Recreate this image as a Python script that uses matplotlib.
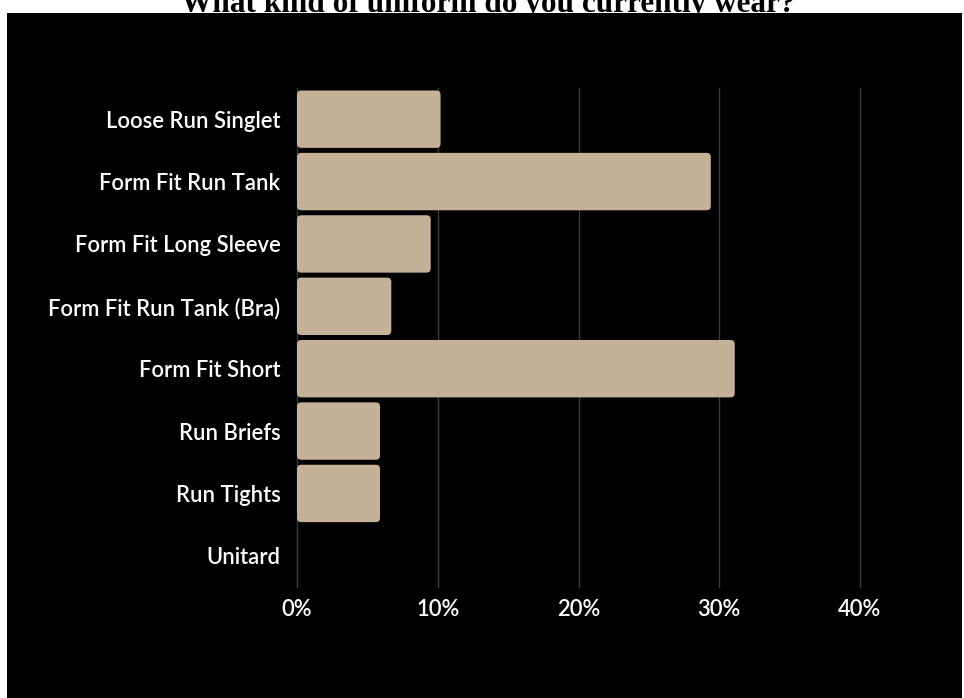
import matplotlib.pyplot as plt
from matplotlib.patches import FancyBboxPatch
from matplotlib.ticker import FuncFormatter

# ── Data ──────────────────────────────────────────────────────────────────
categories = ['Loose Run Singlet', 'Form Fit Run Tank', 'Form Fit Long Sleeve',
              'Form Fit Run Tank (Bra)', 'Form Fit Short', 'Run Briefs',
              'Run Tights', 'Unitard']
percent = [10.2, 29.4, 9.5, 6.7, 31.1, 5.9, 5.9, 0.0]
x_ticks = [0, 10, 20, 30, 40]

BAR_COLOR = '#C5B197'
GRID_COLOR = '#3c3c3c'
LABEL_FONT = ['Lato', 'DejaVu Sans']

W, H = 964, 698
fig = plt.figure(figsize=(W / 100, H / 100), dpi=100, facecolor='white')

# black panel behind the chart
bg = fig.add_axes([7 / W, 0, (W - 9) / W, (H - 13) / H], zorder=-1)
bg.set_facecolor('black')
bg.set_xticks([])
bg.set_yticks([])
for s in bg.spines.values():
    s.set_visible(False)

# title, partly cut off at the top edge as in the source
fig.text(488 / W, 1 - 12 / H, 'What kind of uniform do you currently wear?',
         ha='center', va='baseline', fontsize=22.5, fontweight='bold',
         family=['Liberation Serif', 'DejaVu Serif'], color='black')

ax = fig.add_axes([297 / W, (H - 587) / H, (860 - 297) / W, 499 / H], zorder=1)
ax.set_facecolor('none')

y = list(range(len(categories)))
bars = ax.barh(y, percent, height=0.92, color=BAR_COLOR)
ax.set_xlim(0, 40)
ax.set_ylim(len(categories) - 0.5, -0.5)

# rounded bar ends (same geometry as the bars)
px_x = (860 - 297) / 40
px_y = 499 / len(categories)
for b in bars:
    b.set_visible(False)
    if b.get_width() <= 0:
        continue
    ax.add_patch(FancyBboxPatch((b.get_x(), b.get_y()), b.get_width(), b.get_height(),
                                boxstyle='round,pad=0,rounding_size=0.3',
                                mutation_aspect=px_x / px_y,
                                facecolor=BAR_COLOR, edgecolor='none', zorder=3))

ax.set_yticks(y)
ax.set_yticklabels(categories)
ax.set_xticks(x_ticks)
ax.xaxis.set_major_formatter(FuncFormatter(lambda v, p: f'{v:.0f}%'))

for lab in ax.get_yticklabels() + ax.get_xticklabels():
    lab.set_family(LABEL_FONT)
    lab.set_fontsize(15.8)
    lab.set_fontweight('semibold')
    lab.set_color('white')

ax.tick_params(axis='y', length=0, pad=12)
ax.tick_params(axis='x', length=0, pad=9)
ax.grid(axis='x', color=GRID_COLOR, linewidth=1.0, zorder=1)
for gl in ax.get_xgridlines():
    gl.set_clip_on(False)
ax.set_axisbelow(True)
for s in ax.spines.values():
    s.set_visible(False)

plt.savefig('out.png', dpi=100, facecolor='white')
plt.close()
